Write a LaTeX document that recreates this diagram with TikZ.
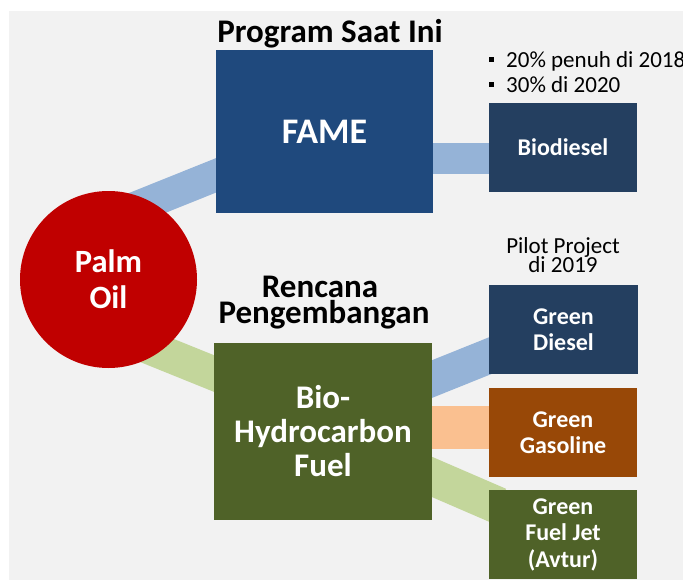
\documentclass[tikz,border=0pt]{standalone}
\usepackage{fontspec}
\setmainfont{Carlito}
\usetikzlibrary{backgrounds}
\definecolor{bggray}{HTML}{F2F2F2}
\definecolor{fameblue}{HTML}{1F497D}
\definecolor{navy}{HTML}{243F60}
\definecolor{palmred}{HTML}{C00000}
\definecolor{olive}{HTML}{4F6228}
\definecolor{brown}{HTML}{984807}
\definecolor{bandblue}{HTML}{95B3D7}
\definecolor{bandgreen}{HTML}{C3D69B}
\definecolor{bandorange}{HTML}{FAC090}
\newcommand{\sqbullet}{\makebox[17pt][l]{\raisebox{5.5pt}{\rule{4.5pt}{4.5pt}}}}
\tikzset{
  bigbox/.style={rectangle, inner sep=0pt, text=white, align=center,
    font=\fontsize{33}{34}\selectfont\bfseries},
  smallbox/.style={rectangle, inner sep=0pt, text=white, align=center,
    minimum width=148pt, minimum height=89pt,
    font=\fontsize{24}{26.5}\selectfont\bfseries},
  titletext/.style={inner sep=0pt, anchor=base, text=black,
    font=\fontsize{33}{34}\selectfont\bfseries},
  notetext/.style={inner sep=0pt, text=black,
    font=\fontsize{23}{25}\selectfont},
  band/.style={line cap=butt}
}
\begin{document}
\begin{tikzpicture}[x=1pt,y=-1pt]
\useasboundingbox (0,0) rectangle (683,581);
\clip (0,0) rectangle (683,581);

% nodes
\node[circle, fill=palmred, minimum size=177pt, inner sep=0pt, text=white, align=center,
  font=\fontsize{32.5}{36}\selectfont\bfseries] (palm) at (108.5,279.5) {Palm\\Oil};
\node[bigbox, fill=fameblue, minimum width=217pt, minimum height=163pt,
  font=\fontsize{36}{38}\selectfont\bfseries] (fame) at (324.5,131.5) {FAME};
\node[bigbox, fill=olive, minimum width=218pt, minimum height=177pt] (bio) at (323,431.5) {Bio-\\Hydrocarbon\\Fuel};
\node[smallbox, fill=navy] (biod) at (563,147.5) {Biodiesel};
\node[smallbox, fill=navy, minimum width=149pt] (gd) at (563.5,329.5) {Green\\Diesel};
\node[smallbox, fill=brown] (gg) at (563,432.5) {Green\\Gasoline};
\node[smallbox, fill=olive] (gfj) at (563,534.5) {Green\\Fuel Jet\\(Avtur)};

% titles and notes
\node[titletext] (t1) at (330,42) {Program Saat Ini};
\node[titletext] (t2a) at (320,297) {Rencana};
\node[titletext] (t2b) at (324,323) {Pengembangan};
\node[notetext, anchor=base west] (n1) at (489,67) {\sqbullet 20\% penuh di 2018};
\node[notetext, anchor=base west] (n2) at (489,92) {\sqbullet 30\% di 2020};
\node[notetext, anchor=base] (p1) at (563,253) {Pilot Project};
\node[notetext, anchor=base] (p2) at (563,272) {di 2019};

% background and bands
\begin{pgfonlayer}{background}
\fill[bggray] (9,11) rectangle (683,580);
\draw[band, bandblue, line width=32pt] ([yshift=61pt]palm.center) -- ([xshift=11pt,yshift=-39.5pt]fame.west);
\draw[band, bandgreen, line width=34pt] ([yshift=-51.4pt]palm.center) -- ([xshift=10pt,yshift=54pt]bio.west);
\draw[band, bandblue, line width=31pt] ([xshift=-10pt,yshift=-27pt]fame.east) -- ([xshift=10pt,yshift=-11pt]biod.west);
\draw[band, bandblue, line width=35pt] ([xshift=-10pt,yshift=48.5pt]bio.east) -- ([xshift=10pt,yshift=-22.7pt]gd.west);
\draw[band, bandorange, line width=43pt] ([xshift=-10pt,yshift=4pt]bio.east) -- ([xshift=10pt,yshift=5pt]gg.west);
\draw[band, bandgreen, line width=37pt] ([xshift=-10pt,yshift=-41.2pt]bio.east) -- ([xshift=10pt,yshift=28.7pt]gfj.west);
\end{pgfonlayer}
\end{tikzpicture}
\end{document}
